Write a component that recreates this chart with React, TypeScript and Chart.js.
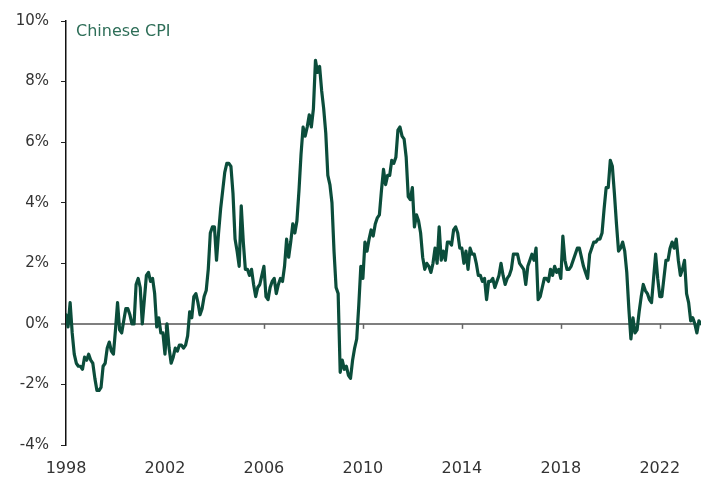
import React, { useEffect, useRef } from "react";
import { Chart, registerables } from "chart.js";

Chart.register(...registerables);

const startYear = 1998;
const seriesLabel = "Chinese CPI";
const xTickYears = [1998, 2002, 2006, 2010, 2014, 2018, 2022];
const yTickValues = [-4, -2, 0, 2, 4, 6, 8, 10];

// Monthly CPI YoY %, Jan 1998 .. Sep 2023
const cpi1998 = [0.3, -0.1, 0.7, -0.3, -1.0, -1.3, -1.4, -1.4, -1.5, -1.1, -1.2, -1.0];
const cpi1999 = [-1.2, -1.3, -1.8, -2.2, -2.2, -2.1, -1.4, -1.3, -0.8, -0.6, -0.9, -1.0];
const cpi2000 = [-0.2, 0.7, -0.2, -0.3, 0.1, 0.5, 0.5, 0.3, 0.0, 0.0, 1.3, 1.5];
const cpi2001 = [1.2, 0.0, 0.8, 1.6, 1.7, 1.4, 1.5, 1.0, -0.1, 0.2, -0.3, -0.3];
const cpi2002 = [-1.0, 0.0, -0.8, -1.3, -1.1, -0.8, -0.9, -0.7, -0.7, -0.8, -0.7, -0.4];
const cpi2003 = [0.4, 0.2, 0.9, 1.0, 0.7, 0.3, 0.5, 0.9, 1.1, 1.8, 3.0, 3.2];
const cpi2004 = [3.2, 2.1, 3.0, 3.8, 4.4, 5.0, 5.3, 5.3, 5.2, 4.3, 2.8, 2.4];
const cpi2005 = [1.9, 3.9, 2.7, 1.8, 1.8, 1.6, 1.8, 1.3, 0.9, 1.2, 1.3, 1.6];
const cpi2006 = [1.9, 0.9, 0.8, 1.2, 1.4, 1.5, 1.0, 1.3, 1.5, 1.4, 1.9, 2.8];
const cpi2007 = [2.2, 2.7, 3.3, 3.0, 3.4, 4.4, 5.6, 6.5, 6.2, 6.5, 6.9, 6.5];
const cpi2008 = [7.1, 8.7, 8.3, 8.5, 7.7, 7.1, 6.3, 4.9, 4.6, 4.0, 2.4, 1.2];
const cpi2009 = [1.0, -1.6, -1.2, -1.5, -1.4, -1.7, -1.8, -1.2, -0.8, -0.5, 0.6, 1.9];
const cpi2010 = [1.5, 2.7, 2.4, 2.8, 3.1, 2.9, 3.3, 3.5, 3.6, 4.4, 5.1, 4.6];
const cpi2011 = [4.9, 4.9, 5.4, 5.3, 5.5, 6.4, 6.5, 6.2, 6.1, 5.5, 4.2, 4.1];
const cpi2012 = [4.5, 3.2, 3.6, 3.4, 3.0, 2.2, 1.8, 2.0, 1.9, 1.7, 2.0, 2.5];
const cpi2013 = [2.0, 3.2, 2.1, 2.4, 2.1, 2.7, 2.7, 2.6, 3.1, 3.2, 3.0, 2.5];
const cpi2014 = [2.5, 2.0, 2.4, 1.8, 2.5, 2.3, 2.3, 2.0, 1.6, 1.6, 1.4, 1.5];
const cpi2015 = [0.8, 1.4, 1.4, 1.5, 1.2, 1.4, 1.6, 2.0, 1.6, 1.3, 1.5, 1.6];
const cpi2016 = [1.8, 2.3, 2.3, 2.3, 2.0, 1.9, 1.8, 1.3, 1.9, 2.1, 2.3, 2.1];
const cpi2017 = [2.5, 0.8, 0.9, 1.2, 1.5, 1.5, 1.4, 1.8, 1.6, 1.9, 1.7, 1.8];
const cpi2018 = [1.5, 2.9, 2.1, 1.8, 1.8, 1.9, 2.1, 2.3, 2.5, 2.5, 2.2, 1.9];
const cpi2019 = [1.7, 1.5, 2.3, 2.5, 2.7, 2.7, 2.8, 2.8, 3.0, 3.8, 4.5, 4.5];
const cpi2020 = [5.4, 5.2, 4.3, 3.3, 2.4, 2.5, 2.7, 2.4, 1.7, 0.5, -0.5, 0.2];
const cpi2021 = [-0.3, -0.2, 0.4, 0.9, 1.3, 1.1, 1.0, 0.8, 0.7, 1.5, 2.3, 1.5];
const cpi2022 = [0.9, 0.9, 1.5, 2.1, 2.1, 2.5, 2.7, 2.5, 2.8, 2.1, 1.6, 1.8];
const cpi2023 = [2.1, 1.0, 0.7, 0.1, 0.2, 0.0, -0.3, 0.1, 0.0];

const cpiValues: number[] = [
  ...cpi1998, ...cpi1999, ...cpi2000, ...cpi2001, ...cpi2002, ...cpi2003,
  ...cpi2004, ...cpi2005, ...cpi2006, ...cpi2007, ...cpi2008, ...cpi2009,
  ...cpi2010, ...cpi2011, ...cpi2012, ...cpi2013, ...cpi2014, ...cpi2015,
  ...cpi2016, ...cpi2017, ...cpi2018, ...cpi2019, ...cpi2020, ...cpi2021,
  ...cpi2022, ...cpi2023,
];

const LINE_COLOR = "#0b4d3b";
const LABEL_COLOR = "#2e6e58";
const TEXT_COLOR = "#333333";
const FONT = "'DejaVu Sans', sans-serif";

export default function App() {
  const canvasRef = useRef<HTMLCanvasElement | null>(null);

  useEffect(() => {
    document.body.style.margin = "0";
    const canvas = canvasRef.current;
    if (!canvas) return;

    const points = cpiValues.map((v, i) => ({ x: startYear + i / 12, y: v }));
    const xMax = startYear + (cpiValues.length - 1) / 12;

    const overlayPlugin = {
      id: "overlay",
      beforeDatasetsDraw(chart: any) {
        const { ctx, scales } = chart;
        const xs = scales.x;
        const ys = scales.y;
        const y0 = ys.getPixelForValue(0);
        ctx.save();
        ctx.strokeStyle = "#666666";
        ctx.lineWidth = 1.5;
        xTickYears.forEach((yr) => {
          if (yr === startYear) return;
          const px = Math.round(xs.getPixelForValue(yr)) + 0.5;
          ctx.beginPath();
          ctx.moveTo(px, y0);
          ctx.lineTo(px, y0 + 5);
          ctx.stroke();
        });
        ctx.restore();
      },
      afterDraw(chart: any) {
        const { ctx, chartArea } = chart;
        ctx.save();
        ctx.font = `16px ${FONT}`;
        ctx.fillStyle = LABEL_COLOR;
        ctx.textBaseline = "middle";
        ctx.textAlign = "left";
        ctx.fillText(seriesLabel, chartArea.left + 10, chartArea.top + 11);
        ctx.restore();
      },
    };

    const chart = new Chart(canvas, {
      type: "line",
      data: {
        datasets: [
          {
            label: seriesLabel,
            data: points,
            borderColor: LINE_COLOR,
            borderWidth: 3.2,
            borderJoinStyle: "round",
            borderCapStyle: "round",
            pointRadius: 0,
            tension: 0,
            fill: false,
          },
        ],
      },
      options: {
        animation: false,
        responsive: true,
        maintainAspectRatio: false,
        layout: { padding: { top: 20, right: 7, left: 0, bottom: 0 } },
        plugins: {
          legend: { display: false },
          tooltip: { enabled: false },
          title: { display: false },
        },
        scales: {
          x: {
            type: "linear",
            min: startYear,
            max: xMax,
            border: { display: false },
            grid: { display: false, drawTicks: false },
            afterBuildTicks: (s: any) => {
              s.ticks = xTickYears.map((v) => ({ value: v }));
            },
            afterFit: (s: any) => {
              s.height = 32;
            },
            ticks: {
              autoSkip: false,
              maxRotation: 0,
              minRotation: 0,
              padding: 14,
              color: TEXT_COLOR,
              font: { family: FONT, size: 16 },
              callback: (v: any) => String(v),
            },
          },
          y: {
            min: -4,
            max: 10,
            border: { display: true, color: "#111111", width: 1.5 },
            afterBuildTicks: (s: any) => {
              s.ticks = yTickValues.map((v) => ({ value: v }));
            },
            afterFit: (s: any) => {
              s.width = 66;
            },
            grid: {
              drawOnChartArea: true,
              drawTicks: true,
              tickLength: 5,
              tickColor: "#222222",
              tickWidth: 1,
              color: (c: any) => (c.tick && c.tick.value === 0 ? "#7f7f7f" : "rgba(0,0,0,0)"),
              lineWidth: (c: any) => (c.tick && c.tick.value === 0 ? 2 : 1),
            },
            ticks: {
              padding: 12,
              color: TEXT_COLOR,
              font: { family: FONT, size: 15 },
              callback: (v: any) => `${v}%`,
            },
          },
        },
      },
      plugins: [overlayPlugin],
    });

    return () => {
      chart.destroy();
    };
  }, []);

  return (
    <div style={{ position: "relative", width: 708, height: 477 }}>
      <canvas ref={canvasRef} />
    </div>
  );
}
